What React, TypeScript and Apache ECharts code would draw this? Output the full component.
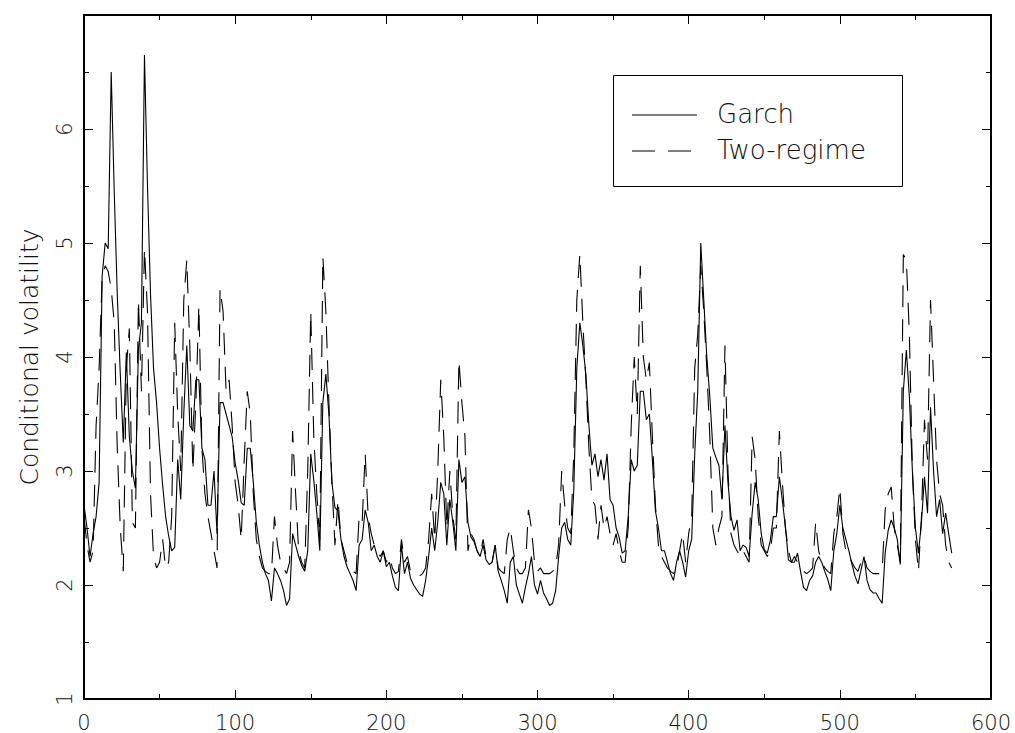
import React, { useEffect, useRef } from "react";
import * as echarts from "echarts";

// sampling step of the series along the x axis (observation index)
const STEP = 2;

const garch = [
  2.70, 2.50, 2.25, 2.45, 2.60, 2.90, 4.71, 5.00, 4.95, 6.50,
  5.45, 4.55, 3.85, 3.25, 4.04, 3.30, 3.00, 2.85, 4.07, 4.30,
  6.65, 5.50, 4.55, 3.90, 3.60, 3.20, 2.88, 2.60, 2.43, 2.30,
  2.33, 3.10, 2.75, 3.50, 4.10, 3.40, 3.35, 3.80, 3.80, 3.20,
  3.10, 2.70, 2.70, 3.00, 2.45, 3.60, 3.60, 3.50, 3.40, 3.30,
  3.07, 2.92, 2.72, 2.70, 3.20, 3.20, 2.90, 2.55, 2.35, 2.20,
  2.10, 2.04, 1.86, 2.15, 2.10, 2.04, 1.95, 1.82, 1.88, 2.45,
  2.35, 2.25, 2.17, 2.12, 2.30, 3.15, 2.92, 2.63, 2.30, 3.60,
  3.85, 3.50, 2.90, 2.68, 2.65, 2.40, 2.25, 2.16, 2.10, 2.04,
  1.95, 2.35, 2.40, 2.66, 2.55, 2.30, 2.35, 2.25, 2.20, 2.30,
  2.16, 2.20, 2.08, 1.98, 1.95, 2.35, 2.10, 2.20, 2.06, 2.00,
  1.96, 1.92, 1.90, 2.04, 2.25, 2.50, 2.30, 2.55, 2.90, 2.80,
  2.35, 2.75, 2.55, 2.30, 3.10, 2.90, 2.95, 2.55, 2.42, 2.38,
  2.30, 2.25, 2.35, 2.22, 2.18, 2.20, 2.35, 2.12, 2.04, 1.95,
  1.84, 2.20, 2.25, 2.00, 1.92, 1.84, 1.98, 2.10, 2.25, 2.00,
  1.92, 2.04, 1.93, 1.88, 1.82, 1.84, 1.95, 2.25, 2.50, 2.55,
  2.40, 2.35, 2.83, 3.90, 4.30, 4.10, 3.85, 3.40, 3.05, 3.15,
  2.95, 3.10, 2.92, 3.15, 2.75, 2.70, 2.50, 2.42, 2.28, 2.30,
  2.60, 3.10, 3.00, 3.05, 3.70, 3.70, 3.45, 3.50, 3.10, 2.65,
  2.50, 2.30, 2.30, 2.20, 2.10, 2.04, 2.20, 2.30, 2.20, 2.07,
  2.30, 2.40, 3.15, 3.70, 5.00, 4.50, 4.00, 3.65, 3.20, 3.12,
  3.05, 2.75, 3.40, 2.90, 2.60, 2.48, 2.57, 2.30, 2.35, 2.33,
  2.25, 2.63, 2.90, 2.75, 2.45, 2.31, 2.28, 2.39, 2.60, 2.60,
  2.95, 2.74, 2.51, 2.22, 2.20, 2.20, 2.28, 2.12, 1.98, 1.95,
  2.04, 2.08, 2.20, 2.25, 2.20, 2.12, 2.05, 1.95, 2.30, 2.45,
  2.70, 2.50, 2.40, 2.30, 2.18, 2.08, 2.01, 2.13, 2.25, 2.04,
  1.96, 1.93, 1.93, 1.88, 1.84, 2.28, 2.48, 2.57, 2.50, 2.40,
  2.18, 3.70, 4.06, 3.65, 3.00, 2.50, 2.28, 2.55, 2.95, 2.63,
  3.56, 3.00, 2.60, 2.75, 2.45, 2.63, 2.45, 2.28,
];

const twoRegime = [
  2.60, 2.35, 2.20, 2.30, 3.40, 3.90, 4.70, 4.80, 4.75, 4.60,
  4.30, 3.20, 2.50, 2.12, 3.90, 4.25, 2.55, 2.50, 4.50, 3.70,
  4.95, 4.40, 2.80, 2.25, 2.15, 2.20, 2.40, 2.15, 2.20, 2.60,
  4.30, 3.50, 3.00, 4.50, 4.85, 4.10, 3.00, 3.60, 4.45, 3.20,
  2.80, 2.60, 2.45, 2.30, 2.15, 4.60, 4.40, 3.70, 3.80, 3.40,
  2.90, 2.70, 2.40, 3.10, 3.70, 3.50, 2.80, 2.40, 2.25, 2.15,
  2.12, 2.10, 2.10, 2.60, 2.35, 2.20, 2.15, 2.10, 2.20, 3.35,
  2.80, 2.30, 2.20, 2.15, 3.00, 4.40, 3.30, 2.80, 2.40, 4.88,
  4.40, 3.60, 2.90, 2.35, 2.75, 2.40, 2.30, 2.20, 2.15, 2.12,
  2.10, 2.60, 2.55, 3.15, 2.60, 2.45, 2.35, 2.30, 2.25, 2.30,
  2.20, 2.25, 2.15, 2.10, 2.12, 2.40, 2.20, 2.25, 2.12, 2.10,
  2.10, 2.08, 2.10, 2.15, 2.40, 2.80, 2.40, 3.00, 3.80, 3.30,
  2.50, 3.00, 2.60, 2.40, 3.97, 3.60, 3.30, 2.30, 2.45, 2.40,
  2.30, 2.25, 2.40, 2.25, 2.20, 2.20, 2.35, 2.15, 2.12, 2.10,
  2.40, 2.50, 2.30, 2.15, 2.10, 2.10, 2.15, 2.66, 2.50, 2.20,
  2.12, 2.15, 2.10, 2.10, 2.10, 2.12, 2.15, 2.36, 3.00, 2.70,
  2.50, 2.45, 3.15, 4.50, 4.90, 4.30, 3.80, 3.20, 2.75, 2.70,
  2.40, 2.70, 2.50, 2.60, 2.45, 2.35, 2.45, 2.30, 2.20, 2.20,
  2.50, 3.40, 4.00, 3.50, 4.80, 4.00, 3.80, 3.95, 3.30, 2.70,
  2.35, 2.25, 2.20, 2.15, 2.12, 2.10, 2.15, 2.30, 2.45, 2.20,
  2.45, 2.60, 3.90, 4.20, 4.80, 4.40, 3.90, 3.30, 2.50, 2.35,
  2.50, 2.60, 4.10, 3.00, 2.45, 2.35, 2.30, 2.25, 2.30, 2.25,
  2.20, 3.30, 3.10, 2.60, 2.35, 2.30, 2.25, 2.30, 2.50, 2.50,
  3.35, 2.90, 2.50, 2.30, 2.20, 2.25, 2.20, 2.15, 2.12, 2.10,
  2.12, 2.15, 2.55, 2.30, 2.20, 2.15, 2.12, 2.10, 2.45, 2.60,
  2.85, 2.45, 2.30, 2.25, 2.20, 2.15, 2.12, 2.20, 2.25, 2.15,
  2.12, 2.10, 2.10, 2.10, 2.12, 2.66, 2.80, 2.86, 2.50, 2.35,
  2.20, 4.90, 4.85, 4.20, 3.00, 2.40, 2.12, 2.60, 3.45, 3.10,
  4.50, 3.80, 3.10, 2.80, 2.70, 2.35, 2.20, 2.15,
];

const seriesNames = ["Garch", "Two-regime"];
const yAxisTitle = "Conditional volatility";
const xRange = [0, 600];
const yRange = [1, 7];

const FONT = "DejaVu Sans";
const TEXT_COLOR = "#111";

export default function App() {
  const ref = useRef<HTMLDivElement>(null);

  useEffect(() => {
    if (!ref.current) return;
    const chart = echarts.init(ref.current, null, { renderer: "svg" });
    const toPairs = (arr: number[]) => arr.map((v, i) => [i * STEP, v]);

    const axisLine = { show: true, onZero: false, lineStyle: { color: "#000", width: 2 } };
    const axisTick = { show: true, inside: true, length: 9, lineStyle: { color: "#000", width: 1 } };
    const minorTick = { show: true, splitNumber: 2, length: 5, lineStyle: { color: "#000", width: 1 } };
    const labelStyle = { color: TEXT_COLOR, fontFamily: FONT, fontWeight: 200 as any, fontSize: 21 };

    chart.setOption({
      animation: false,
      backgroundColor: "#fff",
      grid: { left: 84, right: 24, top: 15, bottom: 33 },
      xAxis: [
        {
          type: "value", min: xRange[0], max: xRange[1], interval: 100, position: "bottom",
          axisLine, axisTick, minorTick, splitLine: { show: false }, minorSplitLine: { show: false },
          axisLabel: { ...labelStyle, margin: 13 },
        },
        {
          type: "value", min: xRange[0], max: xRange[1], interval: 100, position: "top",
          axisLine, axisTick, minorTick, splitLine: { show: false },
          axisLabel: { show: false },
        },
      ],
      yAxis: [
        {
          type: "value", min: yRange[0], max: yRange[1], interval: 1, position: "left",
          name: yAxisTitle, nameLocation: "middle", nameRotate: 90, nameGap: 42,
          nameTextStyle: { ...labelStyle, fontSize: 25 },
          axisLine, axisTick, minorTick, splitLine: { show: false },
          axisLabel: { ...labelStyle, rotate: 90, margin: 9, showMaxLabel: false },
        },
        {
          type: "value", min: yRange[0], max: yRange[1], interval: 1, position: "right",
          axisLine, axisTick, minorTick, splitLine: { show: false },
          axisLabel: { show: false },
        },
      ],
      series: [
        {
          name: seriesNames[0], type: "line", xAxisIndex: 0, yAxisIndex: 0,
          data: toPairs(garch), symbol: "none", showSymbol: false,
          lineStyle: { color: "#000", width: 1.1 },
        },
        {
          name: seriesNames[1], type: "line", xAxisIndex: 0, yAxisIndex: 0,
          data: toPairs(twoRegime), symbol: "none", showSymbol: false,
          lineStyle: { color: "#000", width: 1.1, type: [22, 12] },
        },
      ],
      graphic: [
        {
          type: "rect", shape: { x: 613.5, y: 75.5, width: 289, height: 111 },
          style: { fill: "#fff", stroke: "#000", lineWidth: 1 }, z: 10,
        },
        {
          type: "line", shape: { x1: 632, y1: 115, x2: 697, y2: 115 },
          style: { stroke: "#000", lineWidth: 1.1 }, z: 11,
        },
        {
          type: "line", shape: { x1: 632, y1: 151, x2: 697, y2: 151 },
          style: { stroke: "#000", lineWidth: 1.1, lineDash: [23, 13] }, z: 11,
        },
        {
          type: "text", x: 717, y: 114, z: 11,
          style: { text: seriesNames[0], fill: TEXT_COLOR, fontFamily: FONT, fontWeight: 200, fontSize: 26, verticalAlign: "middle", align: "left" },
        },
        {
          type: "text", x: 717, y: 150, z: 11,
          style: { text: seriesNames[1], fill: TEXT_COLOR, fontFamily: FONT, fontWeight: 200, fontSize: 26, verticalAlign: "middle", align: "left" },
        },
      ],
    });

    return () => chart.dispose();
  }, []);

  return (
    <div
      ref={ref}
      style={{ position: "fixed", left: 0, top: 0, width: 1015, height: 733, background: "#fff" }}
    />
  );
}
